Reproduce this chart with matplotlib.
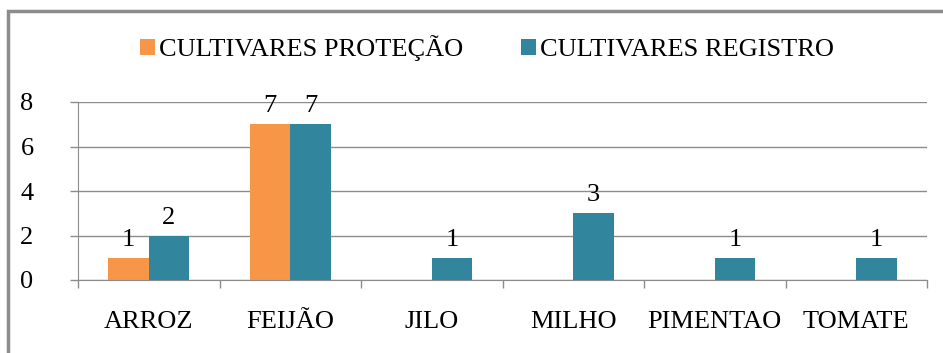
import matplotlib
matplotlib.use("Agg")
import matplotlib.pyplot as plt
import numpy as np
from matplotlib.patches import Rectangle

categories = ["ARROZ", "FEIJÃO", "JILO", "MILHO", "PIMENTAO", "TOMATE"]
protecao = [1, 7, 0, 0, 0, 0]
registro = [2, 7, 1, 3, 1, 1]
series_names = ["CULTIVARES PROTEÇÃO", "CULTIVARES REGISTRO"]
yticks = [0, 2, 4, 6, 8]

c_orange = "#F79646"
c_teal = "#31859C"
grid_c = "#8c8c8c"
FS = 19

plt.rcParams['font.family'] = ['Liberation Serif', 'DejaVu Serif']

fig = plt.figure(figsize=(9.43, 3.53), dpi=100)
ax = fig.add_axes([78/943, 1-280/353, (927-78)/943, (280-102)/353])

x = np.arange(len(categories))
w = 0.285
b1 = ax.bar(x - w/2, protecao, w, color=c_orange, label=series_names[0])
b2 = ax.bar(x + w/2, registro, w, color=c_teal, label=series_names[1])

for bars, vals in ((b1, protecao), (b2, registro)):
    for r, v in zip(bars, vals):
        if v > 0:
            ax.annotate(str(v), (r.get_x() + r.get_width()/2, v), xytext=(0, 5),
                        textcoords="offset points", ha="center", va="bottom", fontsize=FS)

ax.set_xlim(-0.5, len(categories) - 0.5)
ax.set_ylim(0, 8)
ax.set_yticks(yticks)
ax.set_yticklabels([str(t) for t in yticks], fontsize=FS)
ax.yaxis.grid(True, color=grid_c, linewidth=1)
ax.set_axisbelow(True)
ax.set_xticks(x)
ax.set_xticklabels(categories, fontsize=FS)
ax.set_xticks(np.arange(-0.5, len(categories)), minor=True)
ax.tick_params(axis="x", which="major", length=0, pad=22)
ax.tick_params(axis="x", which="minor", length=6, color=grid_c, width=1)
ax.tick_params(axis="y", length=6, color=grid_c, width=1, pad=26)
for s in ["top", "right"]:
    ax.spines[s].set_visible(False)
ax.spines["left"].set_color(grid_c)
ax.spines["bottom"].set_color(grid_c)

fig.legend(handles=[b1, b2], loc="center", bbox_to_anchor=(487/943, 1-48/353),
           ncol=2, frameon=False, fontsize=FS, handlelength=0.55, handleheight=0.55,
           handletextpad=0.15, columnspacing=2.2)

fig.patches.append(Rectangle((8/943, -0.1), 1.1, 1 - 11/353 + 0.1, transform=fig.transFigure,
                             fill=False, edgecolor="#8c8c8c", linewidth=2.5))

fig.savefig("out.png", dpi=100)
